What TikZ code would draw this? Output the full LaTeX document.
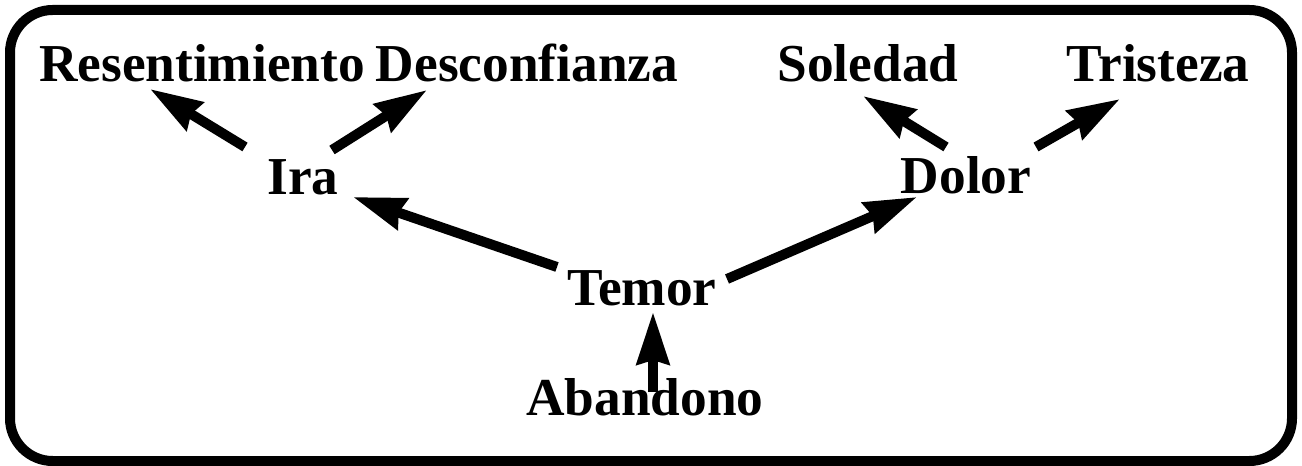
\documentclass[tikz,border=0pt]{standalone}
\usepackage{fontspec}
\setmainfont{Liberation Serif}
\usetikzlibrary{arrows.meta}
\begin{document}
\begin{tikzpicture}[x=0.75pt,y=-0.75pt,
    feeling/.style={anchor=base,inner sep=0pt,font=\fontsize{40pt}{41pt}\selectfont\bfseries},
    grows/.style={line width=7.5pt,-{Stealth[length=39pt,width=24pt,inset=3pt]}}]
        \useasboundingbox (0,0) rectangle (1302,466);
        
        % Drawing the frame
        \draw [line width=7.5pt,rounded corners=32pt] (10,10) rectangle (1292,461);%
        
        % Marking the feelings
        \node [feeling] (res) at (202,82) {Resentimiento};%
        \node [feeling] (des) at (527,82) {Desconfianza};%
        \node [feeling] (sol) at (868,82) {Soledad};%
        \node [feeling] (tri) at (1158,82) {Tristeza};%
        \node [feeling] (ira) at (303,195) {Ira};%
        \node [feeling] (dol) at (966,194) {Dolor};%
        \node [feeling] (tem) at (642,306) {Temor};%
        \node [feeling] (aba) at (645,415) {Abandono};%
        
        % Drawing arrows from Abandono and Temor
        \draw [grows] ([shift={(8,-23)}]aba.base) -- ([shift={(11,6)}]tem.base);%
        \draw [grows] ([shift={(-85,-39)}]tem.base) -- ([shift={(50,2)}]ira.base);%
        \draw [grows] ([shift={(85,-27)}]tem.base) -- ([shift={(-49,3)}]dol.base);%
        
        % Drawing arrows from Ira
        \draw [grows] ([shift={(-58,-48)}]ira.base) -- ([shift={(-52,7)}]res.base);%
        \draw [grows] ([shift={(29,-45)}]ira.base) -- ([shift={(-100,8)}]des.base);%
        
        % Drawing arrows from Dolor
        \draw [grows] ([shift={(-20,-47)}]dol.base) -- ([shift={(-5,14)}]sol.base);%
        \draw [grows] ([shift={(70,-47)}]dol.base) -- ([shift={(-38,17)}]tri.base);%
    \end{tikzpicture}
\end{document}
